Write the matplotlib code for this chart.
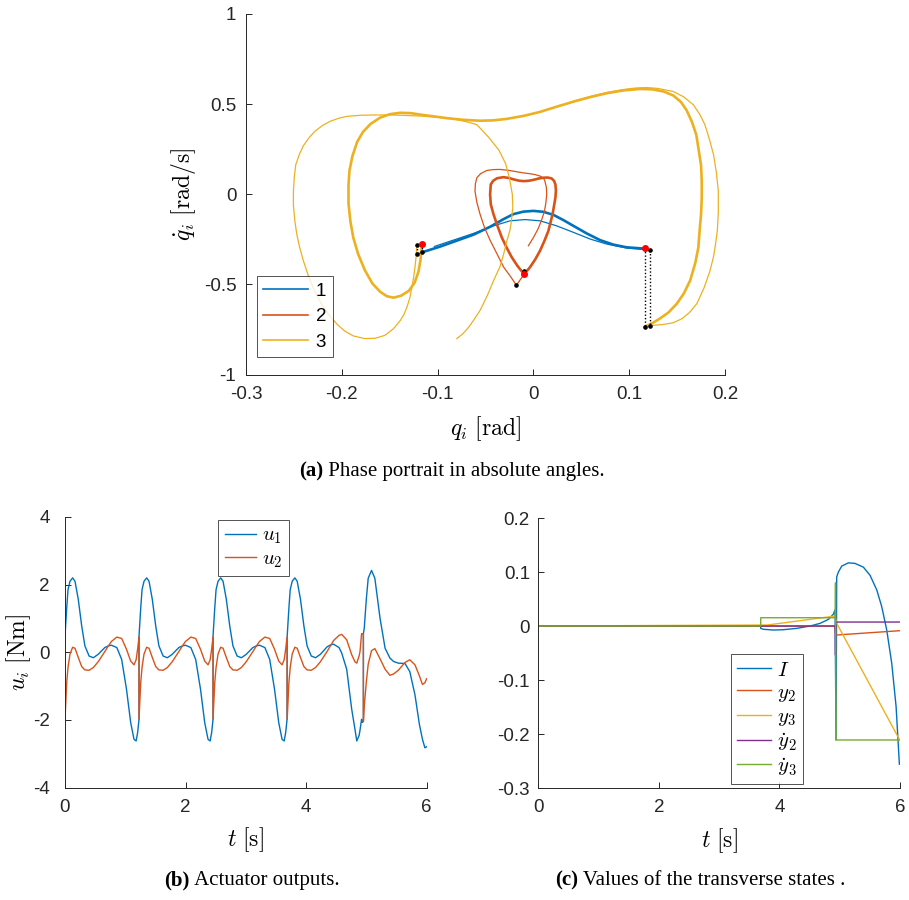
import matplotlib
matplotlib.use("Agg")
import numpy as np
import matplotlib.pyplot as plt
from matplotlib.lines import Line2D

plt.rcParams["font.family"] = ["Liberation Sans", "DejaVu Sans"]
plt.rcParams["mathtext.fontset"] = "cm"

BLUE, ORANGE, YELLOW = "#0072BD", "#D95319", "#EDB120"
PURPLE, GREEN = "#7E2F8E", "#77AC30"
INK = "#262626"

# ---------------- (a) phase portrait ----------------
# curve 1, repeated steps (thick) and the last, perturbed step (thin)
q1_steady = [-0.1165, -0.0974, -0.080, -0.0626, -0.0452, -0.0313, -0.0209, -0.0104, 0.0,
             0.0104, 0.0209, 0.0313, 0.0418, 0.0557, 0.0696, 0.0835, 0.0974, 0.116]
qd1_steady = [-0.322, -0.290, -0.257, -0.224, -0.180, -0.138, -0.110, -0.096, -0.092,
              -0.097, -0.114, -0.143, -0.175, -0.217, -0.254, -0.279, -0.294, -0.301]
q1_last = [-0.1033, -0.0835, -0.0626, -0.0417, -0.0243, -0.0087, 0.007, 0.0244, 0.0418,
           0.0592, 0.0766, 0.0974, 0.1218]
qd1_last = [-0.289, -0.254, -0.217, -0.175, -0.147, -0.140, -0.147, -0.175, -0.211,
            -0.248, -0.276, -0.298, -0.309]
q1_stub = [-0.1217, -0.1159]
qd1_stub = [-0.331, -0.322]

# curve 2 (heart shape)
q2_steady = [-0.0097, -0.0165, -0.0226, -0.028, -0.033, -0.0375, -0.0417, -0.0445, -0.0452,
             -0.0448, -0.0445, -0.042, -0.038, -0.0313, -0.025, -0.0209, -0.0155, -0.0104,
             -0.005, 0.0, 0.005, 0.0104, 0.015, 0.019, 0.0215, 0.023, 0.0235, 0.023, 0.0215,
             0.020, 0.0157, 0.0115, 0.007, 0.002, -0.0035, -0.0097]
qd2_steady = [-0.443, -0.398, -0.349, -0.295, -0.239, -0.175, -0.110, -0.055, 0.0,
              0.03, 0.055, 0.075, 0.089, 0.095, 0.090, 0.083, 0.076, 0.073,
              0.075, 0.080, 0.087, 0.092, 0.093, 0.088, 0.075, 0.055, 0.02, -0.018, -0.065,
              -0.110, -0.202, -0.258, -0.312, -0.36, -0.404, -0.443]
q2_last = [-0.0097, -0.0177, -0.024, -0.031, -0.038, -0.045, -0.051, -0.0557, -0.059, -0.061,
           -0.0605, -0.059, -0.055, -0.0487, -0.042, -0.0348, -0.026, -0.0174, -0.0105,
           -0.0035, 0.002, 0.007, 0.0105, 0.012, 0.0135, 0.0139, 0.013, 0.0115, 0.0085, 0.005,
           0.0, -0.0052]
qd2_last = [-0.443, -0.504, -0.455, -0.404, -0.33, -0.257, -0.185, -0.110, -0.045, 0.018,
            0.06, 0.092, 0.115, 0.132, 0.137, 0.138, 0.133, 0.125, 0.119,
            0.114, 0.109, 0.101, 0.09, 0.073, 0.04, 0.0, -0.048, -0.095, -0.143, -0.190,
            -0.24, -0.285]

# curve 3 (big loops)
q3_steady = [-0.1165, -0.117, -0.118, -0.120, -0.124, -0.130, -0.138, -0.146, -0.153, -0.160,
             -0.168, -0.176, -0.183, -0.188, -0.191, -0.193, -0.193, -0.192, -0.189, -0.184,
             -0.178, -0.170, -0.160, -0.150, -0.139, -0.128, -0.118, -0.104, -0.090, -0.073,
             -0.056, -0.042, -0.028, -0.010, 0.007, 0.025, 0.042, 0.060, 0.077, 0.094, 0.111,
             0.124, 0.136, 0.146, 0.154, 0.160, 0.1653, 0.170, 0.1722, 0.175, 0.1757, 0.1757,
             0.175, 0.1735, 0.1722, 0.169, 0.1636, 0.157, 0.1496, 0.141, 0.132, 0.124, 0.116]
qd3_steady = [-0.278, -0.32, -0.37, -0.43, -0.49, -0.535, -0.562, -0.573, -0.565, -0.540,
              -0.495, -0.42, -0.33, -0.24, -0.15, -0.05, 0.05, 0.13, 0.21, 0.29,
              0.345, 0.39, 0.425, 0.444, 0.452, 0.450, 0.442, 0.432, 0.422, 0.413,
              0.408, 0.410, 0.418, 0.435, 0.457, 0.487, 0.514, 0.540, 0.561, 0.576, 0.584,
              0.582, 0.570, 0.548, 0.512, 0.465, 0.404, 0.33, 0.257, 0.16, 0.073, -0.02,
              -0.110, -0.20, -0.294, -0.38, -0.478, -0.55, -0.607, -0.655, -0.689, -0.715, -0.735]
q3_wide = [0.042, 0.060, 0.077, 0.094, 0.106, 0.118, 0.130, 0.146, 0.157, 0.167, 0.174, 0.179,
           0.184, 0.188, 0.191, 0.193, 0.193, 0.192, 0.190, 0.1879, 0.184, 0.178, 0.1706,
           0.163, 0.155, 0.146, 0.135, 0.1218]
qd3_wide = [0.517, 0.543, 0.565, 0.581, 0.589, 0.592, 0.587, 0.570, 0.540, 0.496, 0.44, 0.386,
            0.30, 0.22, 0.12, 0.018, -0.10, -0.20, -0.28, -0.349, -0.43, -0.52, -0.606,
            -0.655, -0.69, -0.712, -0.722, -0.728]
q3_last = [-0.1217, -0.1225, -0.1235, -0.125, -0.127, -0.129, -0.132, -0.135, -0.139, -0.146,
           -0.155, -0.165, -0.176, -0.188, -0.197, -0.205, -0.214, -0.222, -0.229, -0.235,
           -0.240, -0.244, -0.247, -0.249, -0.2505, -0.2505, -0.2495, -0.248, -0.244, -0.240,
           -0.234, -0.228, -0.220, -0.212, -0.203, -0.195, -0.181, -0.167, -0.150, -0.132,
           -0.115, -0.097, -0.085, -0.0765, -0.068, -0.059, -0.047, -0.036, -0.029, -0.025,
           -0.022, -0.0215, -0.023, -0.0245, -0.0278, -0.031, -0.0348, -0.0417, -0.048,
           -0.0556, -0.062, -0.068, -0.074, -0.080]
qd3_last = [-0.281, -0.35, -0.40, -0.46, -0.52, -0.575, -0.625, -0.665, -0.700, -0.745,
            -0.782, -0.798, -0.800, -0.785, -0.758, -0.72, -0.665, -0.60, -0.53, -0.45,
            -0.37, -0.294, -0.22, -0.147, -0.06, 0.018, 0.10, 0.165, 0.225, 0.27,
            0.315, 0.35, 0.382, 0.405, 0.422, 0.432, 0.438, 0.44, 0.44, 0.437,
            0.433, 0.426, 0.419, 0.41, 0.400, 0.386, 0.318, 0.245, 0.17, 0.09,
            0.0, -0.074, -0.15, -0.20, -0.26, -0.33, -0.40, -0.48, -0.56,
            -0.643, -0.695, -0.74, -0.775, -0.80]

# impact markers
q_red = [0.116, -0.1159, -0.0097]
qd_red = [-0.300, -0.278, -0.443]
q_black = [0.1218, 0.116, 0.1218, -0.1217, -0.1217, -0.1159, -0.0094, -0.0177]
qd_black = [-0.307, -0.735, -0.728, -0.281, -0.331, -0.322, -0.427, -0.504]
jump_q = [(0.116, 0.116), (0.1218, 0.1218), (-0.1217, -0.1217), (-0.1159, -0.1159)]
jump_qd = [(-0.300, -0.735), (-0.307, -0.728), (-0.281, -0.331), (-0.278, -0.322)]

# ---------------- (b) actuator outputs ----------------
# one regular step (time since impact) and its impact times
step_tau = [0.0, 0.028, 0.05, 0.083, 0.127, 0.166, 0.22, 0.277, 0.33, 0.40, 0.47, 0.55,
            0.66, 0.72, 0.77, 0.86, 0.94, 1.02, 1.09, 1.145, 1.18, 1.205, 1.228]
step_u1 = [0.48, 1.3, 1.85, 2.1, 2.2, 2.1, 1.57, 0.78, 0.19, -0.11, -0.16, -0.06,
           0.14, 0.19, 0.21, 0.14, -0.21, -1.09, -2.08, -2.57, -2.62, -2.37, -1.98]
step_u2 = [-1.98, -0.9, -0.45, -0.05, 0.15, 0.12, -0.15, -0.42, -0.52, -0.53, -0.45, -0.28,
           0.02, 0.19, 0.32, 0.45, 0.41, 0.09, -0.26, -0.37, -0.22, 0.1, 0.45]
impacts = [0.0, 1.228, 2.456]
# fourth step (perturbed end) and the last, unfinished step
t_step4 = [3.686, 3.714, 3.736, 3.769, 3.813, 3.852, 3.906, 3.963, 4.016, 4.086, 4.156, 4.236,
           4.346, 4.406, 4.456, 4.546, 4.59, 4.673, 4.756, 4.81, 4.84, 4.88, 4.894, 4.92, 4.935, 4.95]
u1_step4 = [0.48, 1.3, 1.85, 2.1, 2.2, 2.1, 1.57, 0.78, 0.19, -0.11, -0.16, -0.06,
            0.16, 0.22, 0.24, 0.14, -0.02, -0.5, -1.68, -2.27, -2.62, -2.45, -2.3, -1.98, -2.07, -2.0]
u2_step4 = [-1.98, -0.9, -0.45, -0.05, 0.15, 0.12, -0.15, -0.42, -0.52, -0.53, -0.45, -0.28,
            0.02, 0.2, 0.35, 0.5, 0.53, 0.37, -0.07, -0.28, -0.32, -0.1, 0.02, 0.55, 0.55, 0.55]
t_step5 = [4.95, 4.964, 5.0, 5.03, 5.085, 5.14, 5.226, 5.31, 5.39, 5.45, 5.53, 5.64, 5.72,
           5.806, 5.88, 5.93, 5.97, 6.0]
u1_step5 = [0.55, 0.71, 1.6, 2.19, 2.42, 2.19, 1.01, 0.12, -0.17, -0.27, -0.32, -0.33, -0.57,
            -1.26, -2.14, -2.57, -2.82, -2.79]
u2_step5 = [-2.05, -1.6, -0.85, -0.35, 0.05, 0.11, -0.19, -0.5, -0.68, -0.64, -0.53, -0.3, -0.22,
            -0.37, -0.7, -0.95, -0.9, -0.78]

# ---------------- (c) transverse states ----------------
t_I = [0.0, 3.689, 3.689, 3.733, 3.90, 4.065, 4.287, 4.508, 4.674, 4.812, 4.895, 4.923, 4.939,
       4.95, 4.978, 5.033, 5.144, 5.254, 5.393, 5.503, 5.614, 5.697, 5.78, 5.863, 5.935, 5.99]
v_I = [0.0, 0.0, -0.0043, -0.006, -0.0074, -0.0068, -0.0043, 0.0, 0.005, 0.0123, 0.022, 0.030,
       -0.211, 0.091, 0.100, 0.111, 0.117, 0.116, 0.109, 0.094, 0.067, 0.036, -0.0074, -0.069,
       -0.149, -0.256]
t_y2 = [0.0, 4.92, 4.935, 6.0]
v_y2 = [0.0, 0.0, -0.0167, -0.0086]
t_y3 = [0.0, 3.80, 4.92, 4.95, 5.99]
v_y3 = [0.0, 0.0019, 0.0185, 0.005, -0.21]
t_dy2 = [0.0, 4.925, 4.93, 4.935, 6.0]
v_dy2 = [0.0, 0.0, -0.054, 0.0074, 0.0074]
t_dy3 = [0.0, 3.689, 3.69, 4.925, 4.93, 4.94, 6.0]
v_dy3 = [0.0, 0.0, 0.0154, 0.0154, 0.08, -0.211, -0.211]


def matlab_style(ax, ypad=6):
    ax.spines["top"].set_visible(False)
    ax.spines["right"].set_visible(False)
    for s in ("left", "bottom"):
        ax.spines[s].set_linewidth(0.7)
        ax.spines[s].set_color(INK)
    ax.tick_params(direction="in", length=4, width=0.7, labelsize=13.5,
                   color=INK, labelcolor=INK)
    ax.tick_params(axis="x", pad=8)
    ax.tick_params(axis="y", pad=ypad)


def ticklabels(vals):
    return [("%g" % v) for v in vals]


def boxed(leg):
    leg.get_frame().set_edgecolor(INK)
    leg.get_frame().set_linewidth(0.7)


fig = plt.figure(figsize=(9.09, 9.0), dpi=100)

# ---- (a)
ax = fig.add_axes([0.2706, 0.5837, 0.527, 0.4008])
ax.plot(q1_steady, qd1_steady, color=BLUE, lw=1.9)
ax.plot(q1_last, qd1_last, color=BLUE, lw=0.9)
ax.plot(q1_stub, qd1_stub, color=BLUE, lw=0.9)
ax.plot(q2_steady, qd2_steady, color=ORANGE, lw=1.9)
ax.plot(q2_last, qd2_last, color=ORANGE, lw=0.9)
ax.plot(q3_steady, qd3_steady, color=YELLOW, lw=1.9)
ax.plot(q3_wide, qd3_wide, color=YELLOW, lw=0.9)
ax.plot(q3_last, qd3_last, color=YELLOW, lw=0.9)
for jq, jqd in zip(jump_q, jump_qd):
    ax.plot(jq, jqd, color="black", ls=(0, (1, 1.5)), lw=1.0)
ax.plot(q_black, qd_black, "o", color="black", ms=2.3, ls="none")
ax.plot(q_red, qd_red, "o", color="red", ms=4, ls="none")
ax.set_xlim(-0.3, 0.2)
ax.set_ylim(-1, 1)
xt = [-0.3, -0.2, -0.1, 0, 0.1, 0.2]
yt = [-1, -0.5, 0, 0.5, 1]
ax.set_xticks(xt)
ax.set_xticklabels(ticklabels(xt))
ax.set_yticks(yt)
ax.set_yticklabels(ticklabels(yt))
matlab_style(ax, ypad=7)
ax.set_xlabel(r"$q_i\ \mathrm{[rad]}$", fontsize=17, labelpad=8)
ax.set_ylabel(r"$\dot{q}_i\ \mathrm{[rad/s]}$", fontsize=17, labelpad=4)
handles = [Line2D([], [], color=c, lw=1.2) for c in (BLUE, ORANGE, YELLOW)]
leg = ax.legend(handles, ["1", "2", "3"], loc="lower left", bbox_to_anchor=(0.022, 0.048),
                fontsize=13.5, handlelength=2.4, handletextpad=0.4, labelspacing=0.45,
                borderpad=0.35, frameon=True, fancybox=False, borderaxespad=0)
boxed(leg)

# ---- (b)
ax = fig.add_axes([0.0715, 0.1248, 0.3979, 0.3008])
t_all, u1_all, u2_all = [], [], []
for t0 in impacts:
    t_all += [t0 + s for s in step_tau]
    u1_all += step_u1
    u2_all += step_u2
t_all += t_step4 + t_step5
u1_all += u1_step4 + u1_step5
u2_all += u2_step4 + u2_step5
ax.plot(t_all, u1_all, color=BLUE, lw=1.0, label=r"$u_1$")
ax.plot(t_all, u2_all, color=ORANGE, lw=1.0, label=r"$u_2$")
ax.set_xlim(0, 6)
ax.set_ylim(-4, 4)
ax.set_xticks([0, 2, 4, 6])
ax.set_yticks([-4, -2, 0, 2, 4])
ax.set_yticklabels(ticklabels([-4, -2, 0, 2, 4]))
matlab_style(ax, ypad=11)
ax.set_xlabel(r"$t\ \mathrm{[s]}$", fontsize=17, labelpad=7)
ax.set_ylabel(r"$u_i\ \mathrm{[Nm]}$", fontsize=17, labelpad=0)
leg = ax.legend(loc="upper left", bbox_to_anchor=(0.424, 0.99), fontsize=15,
                handlelength=1.5, handletextpad=0.3, labelspacing=0.15,
                borderpad=0.3, frameon=True, fancybox=False, borderaxespad=0)
boxed(leg)

# ---- (c)
ax = fig.add_axes([0.5922, 0.1244, 0.3979, 0.3])
ax.plot(t_I, v_I, color=BLUE, lw=1.0, label=r"$I$")
ax.plot(t_y2, v_y2, color=ORANGE, lw=1.0, label=r"$y_2$")
ax.plot(t_y3, v_y3, color=YELLOW, lw=1.0, label=r"$y_3$")
ax.plot(t_dy2, v_dy2, color=PURPLE, lw=1.0, label=r"$\dot{y}_2$")
ax.plot(t_dy3, v_dy3, color=GREEN, lw=1.0, label=r"$\dot{y}_3$")
ax.set_xlim(0, 6)
ax.set_ylim(-0.3, 0.2)
ax.set_xticks([0, 2, 4, 6])
yt = [-0.3, -0.2, -0.1, 0, 0.1, 0.2]
ax.set_yticks(yt)
ax.set_yticklabels(ticklabels(yt))
matlab_style(ax)
ax.set_xlabel(r"$t\ \mathrm{[s]}$", fontsize=17, labelpad=7)
leg = ax.legend(loc="lower left", bbox_to_anchor=(0.533, 0.015), fontsize=15,
                handlelength=1.6, handletextpad=0.3, labelspacing=0.15,
                borderpad=0.3, frameon=True, fancybox=False, borderaxespad=0)
boxed(leg)

# ---- captions
cap = dict(fontsize=15, family=["Liberation Serif", "DejaVu Serif"], va="center")
for x, y, tag, rest in [(0.3555, 0.476, "(a)", " Phase portrait in absolute angles."),
                        (0.209, 0.022, "(b)", " Actuator outputs."),
                        (0.636, 0.022, "(c)", " Values of the transverse states .")]:
    fig.text(x, y, tag, ha="right", weight="bold", **cap)
    fig.text(x, y, rest, ha="left", **cap)

fig.savefig("out.png", dpi=100)
